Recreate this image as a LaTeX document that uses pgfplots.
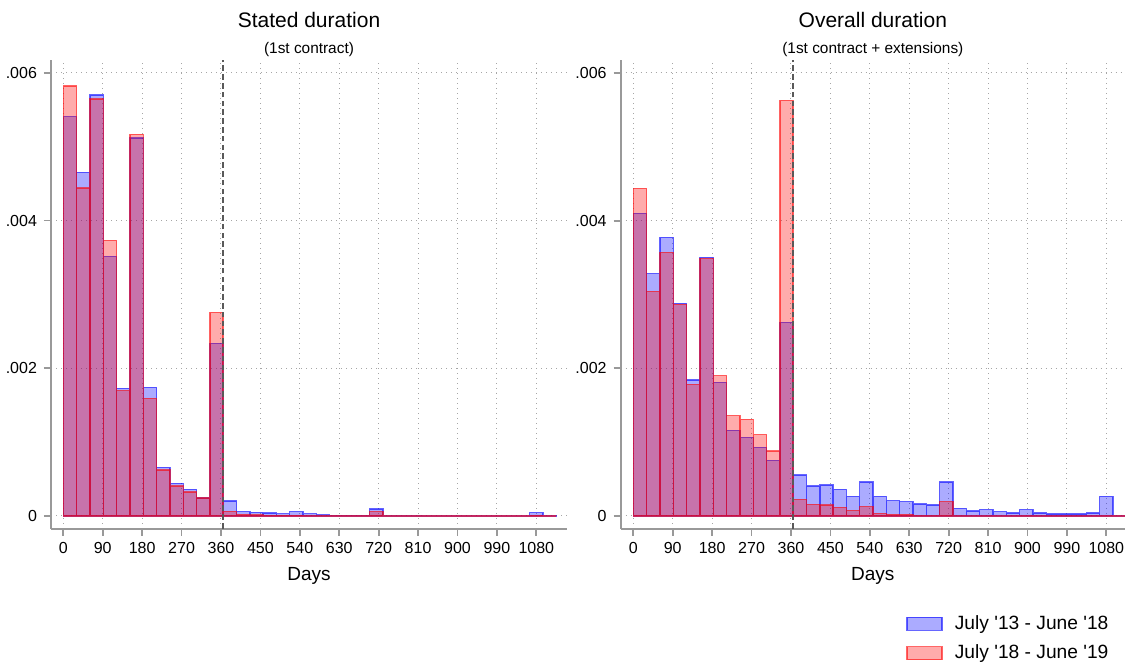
\documentclass[border=0pt]{standalone}
\usepackage{fontspec}
\setmainfont{Liberation Sans}[Ligatures=TeXOff]
\usepackage{pgfplots}
\usepackage{pgfplotstable}
\pgfplotsset{compat=1.18}

% bin start, blue (July '13 - June '18), red (July '18 - June '19)
\pgfplotstableread{
x lb lr rb rr
0 0.005407 0.005823 0.004099 0.004437
30.42 0.004654 0.004441 0.003281 0.003043
60.83 0.005701 0.005647 0.003774 0.003571
91.25 0.003517 0.003733 0.002880 0.002866
121.67 0.001729 0.001697 0.001842 0.001783
152.08 0.005119 0.005168 0.003503 0.003490
182.5 0.001742 0.001593 0.001810 0.001900
212.92 0.000659 0.000623 0.001160 0.001359
243.33 0.000442 0.000406 0.001065 0.001309
273.75 0.000361 0.000325 0.000930 0.001101
304.17 0.000244 0.000244 0.000754 0.000880
334.58 0.002338 0.002758 0.002623 0.005629
365 0.000203 0.000063 0.000553 0.000224
395.42 0.000059 0.000023 0.000404 0.000158
425.83 0.000050 0.000015 0.000418 0.000147
456.25 0.000040 0.000010 0.000359 0.000118
486.67 0.000030 0.000010 0.000267 0.000076
517.08 0.000060 0.000010 0.000458 0.000128
547.5 0.000030 0.000005 0.000266 0.000036
577.92 0.000015 0.000005 0.000208 0.000023
608.33 0.000010 0.000004 0.000194 0.000023
638.75 0.000010 0.000004 0.000162 0.000009
669.17 0.000010 0.000004 0.000149 0.000009
699.58 0.000095 0.000060 0.000460 0.000194
730 0.000004 0.000003 0.000104 0.000005
760.42 0.000004 0.000003 0.000068 0.000003
790.83 0.000004 0.000003 0.000086 0.000003
821.25 0.000003 0.000002 0.000059 0.000003
851.67 0.000003 0.000002 0.000041 0.000003
882.08 0.000003 0.000002 0.000086 0.000005
912.5 0.000003 0.000000 0.000041 0.000002
942.92 0.000002 0.000002 0.000027 0.000002
973.33 0.000002 0.000002 0.000027 0.000002
1003.75 0.000003 0.000002 0.000027 0.000002
1034.17 0.000003 0.000002 0.000041 0.000002
1064.58 0.000045 0.000010 0.000266 0.000005
1095 0.000004 0.000000 0.000005 0.000002
1125.42 0 0 0 0
}\hist

\definecolor{sblue}{RGB}{0,0,255}
\definecolor{sred}{RGB}{255,0,0}

\pgfplotsset{
  panel/.style={
    scale only axis, height=234.35pt,
    ymin=-0.000172, ymax=0.006175,
    axis x line*=bottom, axis y line*=left,
    axis line style={draw=black!40, line width=0.9pt, -},
    tick style={draw=black!40, line width=0.9pt},
    tick align=outside, major tick length=3.5pt,
    xtick={0,90,...,1080},
    ytick={0,0.002,0.004,0.006}, yticklabels={0,.002,.004,.006},
    scaled y ticks=false,
    /pgf/number format/set thousands separator={},
    /pgf/number format/assume math mode=true,
    grid=major,
    major grid style={draw=black!35, line width=0.5pt, dash pattern=on 0.5pt off 2pt},
    ticklabel style={font=\fontsize{8}{9.6}\selectfont},
    xlabel={Days}, xlabel style={font=\fontsize{9.5}{11.4}\selectfont},
    title style={align=center, at={(0.5,1)}, anchor=south, yshift=-4.5pt, inner sep=0pt},
  },
  bblue/.style={ybar interval, fill=sblue, fill opacity=0.33, draw=sblue, draw opacity=0.6, line width=0.7pt,
    legend image code/.code={\draw[##1] (0pt,-3.25pt) rectangle (17.5pt,3.25pt);}},
  bred/.style={ybar interval, fill=sred, fill opacity=0.33, draw=sred, draw opacity=0.6, line width=0.7pt,
    legend image code/.code={\draw[##1] (0pt,-3.25pt) rectangle (17.5pt,3.25pt);}},
  vline/.style={forget plot, draw=black!65, line width=0.7pt, dash pattern=on 2.8pt off 1.6pt},
}

\begin{document}
\begin{tikzpicture}
\useasboundingbox (0,0) rectangle (562.5pt,331pt);
\begin{axis}[panel, at={(25.5pt,66.65pt)}, anchor=south west, width=258pt,
  xmin=-28.1, xmax=1150,
  title={{\fontsize{10.5}{12.6}\selectfont Stated duration}\\[1pt]{\fontsize{7.7}{9.2}\selectfont (1st contract)}}]
\addplot[bblue] table[x=x, y=lb] {\hist};
\addplot[bred] table[x=x, y=lr] {\hist};
\addplot[vline] coordinates {(365,-0.000172) (365,0.006175)};
\end{axis}
\begin{axis}[panel, at={(310.35pt,66.65pt)}, anchor=south west, width=252.15pt,
  xmin=-28.8, xmax=1122.6,
  title={{\fontsize{10.5}{12.6}\selectfont Overall duration}\\[1pt]{\fontsize{7.7}{9.2}\selectfont (1st contract + extensions)}},
  legend style={draw=none, fill=none, at={(0.554,-0.167)}, anchor=north west,
    font=\fontsize{9.6}{11.5}\selectfont, row sep=2.2pt, column sep=4pt},
  legend cell align=left]
\addplot[bblue] table[x=x, y=rb] {\hist};
\addlegendentry{July '13 - June '18}
\addplot[bred] table[x=x, y=rr] {\hist};
\addlegendentry{July '18 - June '19}
\addplot[vline] coordinates {(365,-0.000172) (365,0.006175)};
\end{axis}
\end{tikzpicture}
\end{document}
